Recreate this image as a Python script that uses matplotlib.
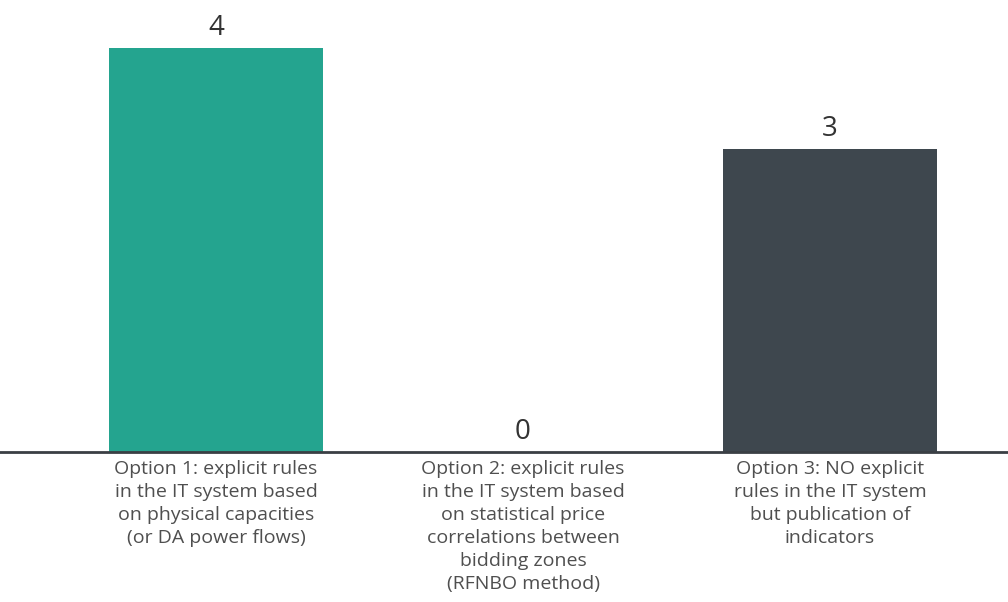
import matplotlib

matplotlib.use("Agg")

import matplotlib.pyplot as plt

categories = [
    "Option 1: explicit rules\nin the IT system based\non physical capacities\n(or DA power flows)",
    "Option 2: explicit rules\nin the IT system based\non statistical price\ncorrelations between\nbidding zones\n(RFNBO method)",
    "Option 3: NO explicit\nrules in the IT system\nbut publication of\nindicators",
]
counts = [4, 0, 3]
bar_colors = ["#24a48f", "#2f9e8c", "#3e474e"]

plt.rcParams["font.family"] = ["Open Sans", "DejaVu Sans"]

fig = plt.figure(figsize=(10.08, 6.02), dpi=100)
ax = fig.add_axes([0.0, 0.249, 1.0, 0.751])

x = list(range(len(categories)))
bars = ax.bar(x, counts, width=0.697, color=bar_colors, zorder=2)

for rect, val in zip(bars, counts):
    ax.text(
        rect.get_x() + rect.get_width() / 2,
        val + 0.06,
        str(val),
        ha="center",
        va="bottom",
        fontsize=20,
        color="#333333",
    )

ax.set_xlim(-0.704, 2.58)
ax.set_ylim(0, 4.475)
ax.set_xticks(x)
ax.set_xticklabels(categories, fontsize=14, color="#4f4f4f", linespacing=1.35)
ax.tick_params(axis="x", length=0, pad=6)
ax.set_yticks([])

for side in ("top", "right", "left"):
    ax.spines[side].set_visible(False)
ax.spines["bottom"].set_color("#3a3f44")
ax.spines["bottom"].set_linewidth(2)
ax.spines["bottom"].set_zorder(3)

fig.savefig("out.png", dpi=100)
